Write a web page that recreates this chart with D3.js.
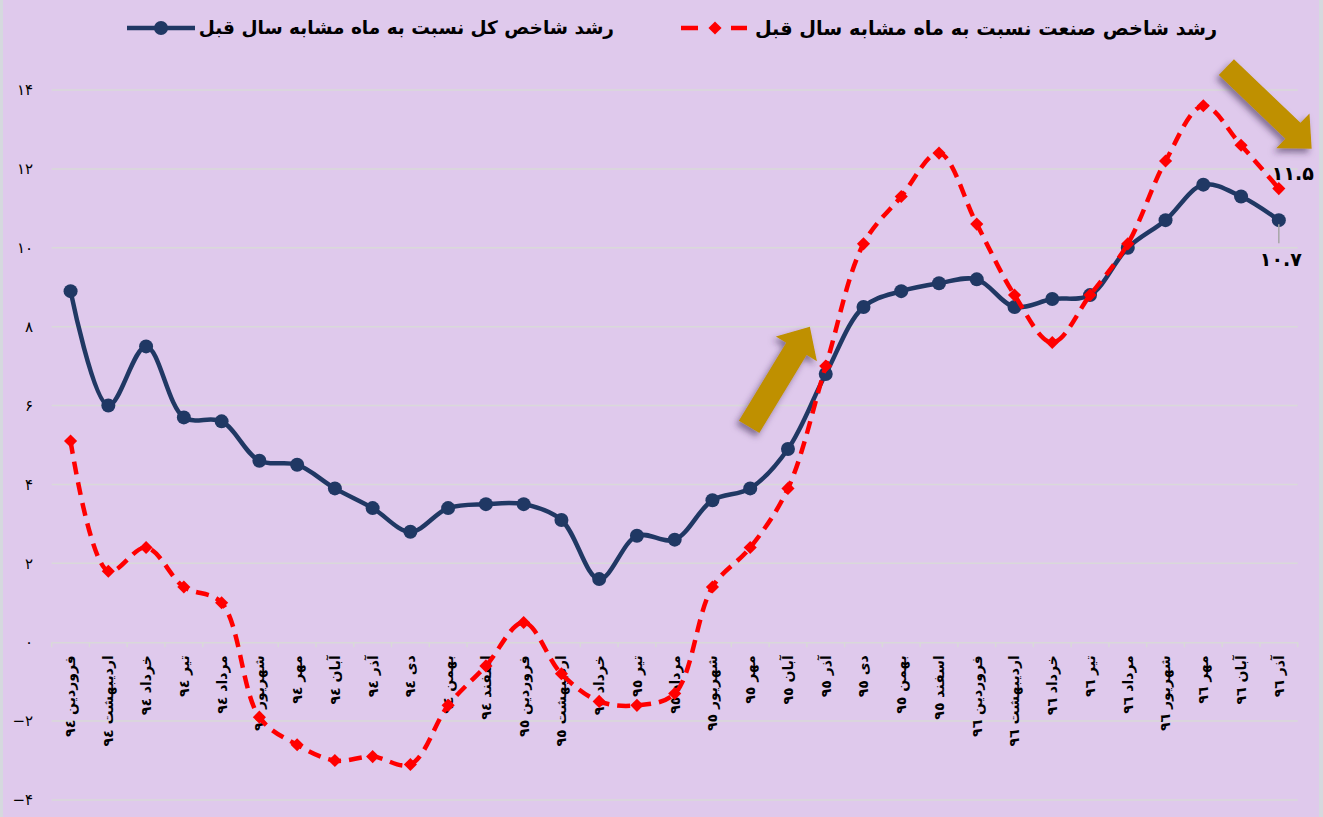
<!DOCTYPE html>
<html>
<head>
<meta charset="utf-8">
<script src="https://cdn.jsdelivr.net/npm/d3@7"></script>
<style>
  body { margin: 0; background: #d5d9de; }
  svg { display: block; }
  text { font-family: "DejaVu Sans", sans-serif; }
</style>
</head>
<body>
<div id="chart"></div>
<script>
// chart data
const months = ["فروردین", "اردیبهشت", "خرداد", "تیر", "مرداد", "شهریور", "مهر", "آبان", "آذر", "دی", "بهمن", "اسفند"];
const categories = [
  ...months.map((m) => m + " ٩٤"),
  ...months.map((m) => m + " ٩٥"),
  ...months.slice(0, 9).map((m) => m + " ٩٦")
];
const totalGrowth = [8.9, 6.0, 7.5, 5.7, 5.6, 4.6, 4.5, 3.9, 3.4, 2.8, 3.4, 3.5,
  3.5, 3.1, 1.6, 2.7, 2.6, 3.6, 3.9, 4.9, 6.8, 8.5, 8.9, 9.1,
  9.2, 8.5, 8.7, 8.8, 10.0, 10.7, 11.6, 11.3, 10.7];
const industryGrowth = [5.1, 1.8, 2.4, 1.4, 1.0, -1.9, -2.6, -3.0, -2.9, -3.1, -1.6, -0.6,
  0.5, -0.8, -1.5, -1.6, -1.3, 1.4, 2.4, 3.9, 7.0, 10.1, 11.3, 12.4,
  10.6, 8.8, 7.6, 8.8, 10.1, 12.2, 13.6, 12.6, 11.5];
const yTicks = [-4, -2, 0, 2, 4, 6, 8, 10, 12, 14];
const yTickLabels = ["−۴", "−۲", "۰", "۲", "۴", "۶", "۸", "۱۰", "۱۲", "۱۴"];
const legendNames = ["رشد شاخص کل نسبت به ماه مشابه سال قبل", "رشد شاخص صنعت نسبت به ماه مشابه سال قبل"];
const endLabels = ["۱۰.۷", "۱۱.۵"];

const W = 1323, H = 817,
  blue = "#203864",
  red = "#FF0000",
  gold = "#BF9000";

const svg = d3.select("#chart").append("svg").attr("width", W).attr("height", H);

svg.append("rect").attr("x", 3).attr("y", 0).attr("width", 1316).attr("height", H).attr("fill", "#dfc9ec");

const defs = svg.append("defs");
const shadow = defs.append("filter").attr("id", "shadow").attr("x", "-30%").attr("y", "-30%").attr("width", "160%").attr("height", "160%");
shadow.append("feDropShadow").attr("dx", -3).attr("dy", 4).attr("stdDeviation", 3)
  .attr("flood-color", "#3a2a50").attr("flood-opacity", 0.55);

// scales
const x = d3.scaleBand().domain(categories).range([51.7, 1297.7]).paddingInner(0).paddingOuter(0);
const bw = x.bandwidth();
const xc = (i) => x(categories[i]) + bw / 2;
const xf = (f) => x.range()[0] + (f + 0.5) * bw;
const y = d3.scaleLinear().domain([-4, 14]).range([800, 90]);

// grid lines
svg.append("g").selectAll("line").data(yTicks.filter((d) => d !== 0)).enter().append("line")
  .attr("x1", x.range()[0]).attr("x2", x.range()[1])
  .attr("y1", (d) => y(d)).attr("y2", (d) => y(d))
  .attr("stroke", "#d9d9d9").attr("stroke-width", 1.5);

// y labels
svg.append("g").selectAll("text").data(yTicks).enter().append("text")
  .attr("x", 33).attr("y", (d) => y(d)).attr("dy", "0.35em")
  .attr("text-anchor", "end").attr("font-size", 15).attr("fill", "#000")
  .text((d, i) => yTickLabels[i]);

// x axis at zero
const xAxis = svg.append("g").attr("transform", "translate(0," + y(0) + ")")
  .call(d3.axisBottom(x).tickSize(0).tickFormat(""));
xAxis.select(".domain").attr("stroke", "#d9d9d9").attr("stroke-width", 1.5);
xAxis.append("g").selectAll("line").data(d3.range(categories.length + 1)).enter().append("line")
  .attr("x1", (i) => x.range()[0] + i * bw).attr("x2", (i) => x.range()[0] + i * bw)
  .attr("y1", 0).attr("y2", 5).attr("stroke", "#d9d9d9").attr("stroke-width", 1.5);

svg.append("g").selectAll("text").data(categories).enter().append("text")
  .attr("transform", (d, i) => "translate(" + xc(i) + "," + (y(0) + 13) + ") rotate(-90)")
  .attr("direction", "rtl").attr("text-anchor", "start").attr("dy", "0.35em")
  .attr("font-size", 14).attr("font-weight", "bold").attr("fill", "#000")
  .text((d) => d);

// lines
const line = d3.line().x((d, i) => xc(i)).y((d) => y(d)).curve(d3.curveCatmullRom.alpha(0.5));

svg.append("path").datum(totalGrowth).attr("d", line)
  .attr("fill", "none").attr("stroke", blue).attr("stroke-width", 4.5);
svg.append("g").selectAll("circle").data(totalGrowth).enter().append("circle")
  .attr("cx", (d, i) => xc(i)).attr("cy", (d) => y(d)).attr("r", 7).attr("fill", blue);

svg.append("path").datum(industryGrowth).attr("d", line)
  .attr("fill", "none").attr("stroke", red).attr("stroke-width", 4.5).attr("stroke-dasharray", "13,8");
const diamond = d3.symbol().type(d3.symbolDiamond2).size(110);
svg.append("g").selectAll("path").data(industryGrowth).enter().append("path")
  .attr("d", diamond)
  .attr("transform", (d, i) => "translate(" + xc(i) + "," + y(d) + ")")
  .attr("fill", red);

// end labels
const last = categories.length - 1;
svg.append("line")
  .attr("x1", xc(last)).attr("x2", xc(last))
  .attr("y1", y(totalGrowth[last]) + 4).attr("y2", y(totalGrowth[last]) + 23)
  .attr("stroke", "#a6a6a6").attr("stroke-width", 1.5);
svg.append("text").attr("x", xc(last) + 2).attr("y", y(totalGrowth[last]) + 46)
  .attr("text-anchor", "middle").attr("font-size", 19).attr("font-weight", "bold")
  .text(endLabels[0]);
svg.append("text").attr("x", xc(last) + 14).attr("y", y(industryGrowth[last]) - 9)
  .attr("text-anchor", "middle").attr("font-size", 19).attr("font-weight", "bold")
  .text(endLabels[1]);

// arrows
function arrow(x0, y0, x1, y1, shaftW, headW, headL) {
  const dx = x1 - x0, dy = y1 - y0, len = Math.hypot(dx, dy);
  const ux = dx / len, uy = dy / len, px = -uy, py = ux;
  const bx = x1 - ux * headL, by = y1 - uy * headL;
  const pts = [
    [x0 + px * shaftW / 2, y0 + py * shaftW / 2],
    [bx + px * shaftW / 2, by + py * shaftW / 2],
    [bx + px * headW / 2, by + py * headW / 2],
    [x1, y1],
    [bx - px * headW / 2, by - py * headW / 2],
    [bx - px * shaftW / 2, by - py * shaftW / 2],
    [x0 - px * shaftW / 2, y0 - py * shaftW / 2]
  ];
  svg.append("polygon").attr("points", pts.map((p) => p.join(",")).join(" "))
    .attr("fill", gold).attr("filter", "url(#shadow)");
}
arrow(xf(17.97), y(5.46), xf(19.58), y(8.0), 24, 48, 26);
arrow(xf(30.61), y(14.58), xf(32.87), y(12.51), 22, 48, 26);

// legend
const lg = svg.append("g");
lg.append("line").attr("x1", 127).attr("x2", 195).attr("y1", 28).attr("y2", 28)
  .attr("stroke", blue).attr("stroke-width", 4.5);
lg.append("circle").attr("cx", 161).attr("cy", 28).attr("r", 7).attr("fill", blue);
lg.append("text").attr("x", 614).attr("y", 28).attr("dy", "0.35em")
  .attr("direction", "rtl").attr("text-anchor", "start")
  .attr("font-size", 18.5).attr("font-weight", "bold").text(legendNames[0]);

lg.append("line").attr("x1", 681).attr("x2", 747).attr("y1", 28).attr("y2", 28)
  .attr("stroke", red).attr("stroke-width", 4.5).attr("stroke-dasharray", "17,33");
lg.append("path").attr("d", diamond).attr("transform", "translate(715,28)").attr("fill", red);
lg.append("text").attr("x", 1217).attr("y", 28).attr("dy", "0.35em")
  .attr("direction", "rtl").attr("text-anchor", "start")
  .attr("font-size", 19.3).attr("font-weight", "bold").text(legendNames[1]);
</script>
</body>
</html>
